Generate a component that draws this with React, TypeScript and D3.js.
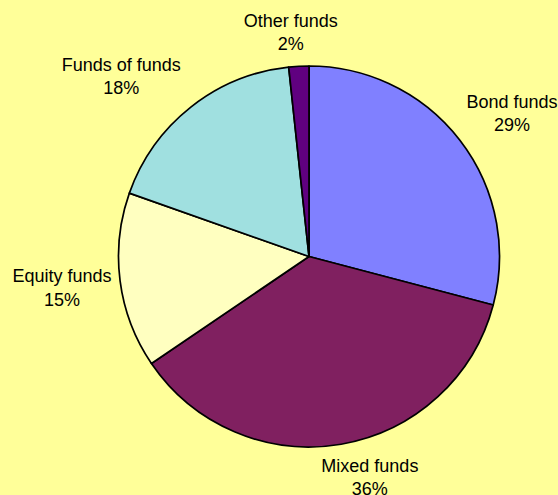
import React from "react";
import * as d3 from "d3";

const categories = ["Bond funds", "Mixed funds", "Equity funds", "Funds of funds", "Other funds"];
const shares = [29.1, 36.4, 14.9, 17.9, 1.7];
const colors = ["#8080FF", "#802060", "#FFFFC0", "#A0E0E0", "#600080"];

// layout constants (not data)
const W = 558;
const H = 495;
const CX = 309;
const CY = 256.5;
const R = 190.5;
const FONT = 18;
const LINE = 23.3;
const labelNudge: [number, number][] = [
  [9, -11],
  [19, 6],
  [0, 3],
  [-27, -10],
  [-5, -7],
];

export default function App() {
  const total = d3.sum(shares);
  const pie = d3
    .pie<number>()
    .sort(null)
    .value((d) => d)
    .startAngle(0)
    .endAngle(2 * Math.PI);
  const arcs = pie(shares);
  const arc = d3.arc<d3.PieArcDatum<number>>().innerRadius(0).outerRadius(R);
  const pct = d3.format(".0%");

  const textWidth = (s: string) => {
    // Arial-ish width approximation for placement of label boxes
    const w: Record<string, number> = {
      B: 0.667, M: 0.833, E: 0.667, F: 0.611, O: 0.778,
      o: 0.556, n: 0.556, d: 0.556, f: 0.278, u: 0.556, s: 0.5,
      i: 0.222, x: 0.5, e: 0.556, q: 0.556, t: 0.278, y: 0.5, h: 0.556, r: 0.333, " ": 0.278,
    };
    let sum = 0;
    for (const c of s) sum += w[c] ?? 0.556;
    return sum * FONT;
  };

  return (
    <svg
      width={W}
      height={H}
      style={{ position: "fixed", left: 0, top: 0, display: "block" }}
      fontFamily="'Liberation Sans', Arial, sans-serif"
    >
      <rect x={0} y={0} width={W} height={H} fill="#FFFF99" />
      <g transform={`translate(${CX},${CY})`}>
        {arcs.map((a, i) => (
          <path
            key={categories[i]}
            d={arc(a) || ""}
            fill={colors[i]}
            stroke="#000"
            strokeWidth={1.7}
            strokeLinejoin="round"
          />
        ))}
      </g>
      {arcs.map((a, i) => {
        const mid = (a.startAngle + a.endAngle) / 2;
        const s = Math.sin(mid);
        const c = Math.cos(mid);
        const rr = R + 9;
        const bw = Math.max(textWidth(categories[i]), 30);
        const bh = 36;
        const cx = CX + rr * s + (s * bw) / 2 + labelNudge[i][0];
        const cy = CY - rr * c - (c * bh) / 2 + labelNudge[i][1];
        const y1 = cy - 5.15;
        return (
          <text key={categories[i]} textAnchor="middle" fontSize={FONT} fill="#000">
            <tspan x={cx} y={y1}>
              {categories[i]}
            </tspan>
            <tspan x={cx} y={y1 + LINE}>
              {pct(a.data / total)}
            </tspan>
          </text>
        );
      })}
    </svg>
  );
}
